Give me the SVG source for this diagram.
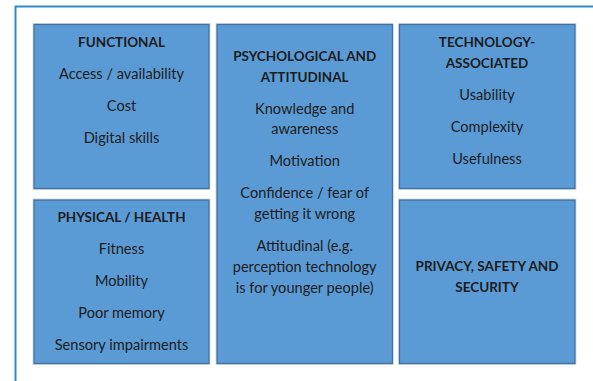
<svg xmlns="http://www.w3.org/2000/svg" width="593" height="381" viewBox="0 0 593 381">
<style>
.box{fill:#5B9BD5;stroke:#41719C;stroke-width:1.3}
.halo{fill:none;stroke:#D6DCE4;stroke-width:1}
text{font-family:Lato,"Open Sans",sans-serif;font-size:14.6px;fill:#1C1C1C;text-anchor:middle}
.t{font-weight:bold;font-size:13.5px}
</style>
<rect x="0" y="0" width="593" height="381" fill="#FFFFFF"/>
<path d="M15.5 381 V6.5 H593" fill="none" stroke="#2E8BC9" stroke-width="2"/>
<g id="functional">
<rect class="halo" x="33" y="23.5" width="177" height="166"/>
<rect class="box" x="34" y="24.5" width="175" height="164"/>
<text class="t" x="121.5" y="47">FUNCTIONAL</text>
<text x="121.5" y="78.5">Access / availability</text>
<text x="121.5" y="110.5">Cost</text>
<text x="121.5" y="142.5">Digital skills</text>
</g>
<g id="psychological">
<rect class="halo" x="216" y="23.5" width="177" height="341"/>
<rect class="box" x="217" y="24.5" width="175.5" height="339"/>
<text class="t" x="304.7" y="61">PSYCHOLOGICAL AND</text>
<text class="t" x="304.7" y="81.5">ATTITUDINAL</text>
<text x="304.7" y="113.5">Knowledge and</text>
<text x="304.7" y="134">awareness</text>
<text x="304.7" y="166">Motivation</text>
<text x="304.7" y="198">Confidence / fear of</text>
<text x="304.7" y="219">getting it wrong</text>
<text x="304.7" y="251">Attitudinal (e.g.</text>
<text x="304.7" y="272">perception technology</text>
<text x="304.7" y="293">is for younger people)</text>
</g>
<g id="technology">
<rect class="halo" x="398.5" y="23.5" width="177.5" height="166"/>
<rect class="box" x="399.5" y="24.5" width="175.5" height="164"/>
<text class="t" x="487" y="47">TECHNOLOGY-</text>
<text class="t" x="487" y="67.5">ASSOCIATED</text>
<text x="487" y="100">Usability</text>
<text x="487" y="132">Complexity</text>
<text x="487" y="164">Usefulness</text>
</g>
<g id="physical">
<rect class="halo" x="33" y="199" width="177" height="165.5"/>
<rect class="box" x="34" y="200" width="175" height="163.5"/>
<text class="t" x="121.5" y="221.5">PHYSICAL / HEALTH</text>
<text x="121.5" y="253.5">Fitness</text>
<text x="121.5" y="285.5">Mobility</text>
<text x="121.5" y="317.5">Poor memory</text>
<text x="121.5" y="349.5">Sensory impairments</text>
</g>
<g id="privacy">
<rect class="halo" x="398.5" y="199" width="177.5" height="165.5"/>
<rect class="box" x="399.5" y="200" width="175.5" height="163.5"/>
<text class="t" x="487" y="271">PRIVACY, SAFETY AND</text>
<text class="t" x="487" y="291.5">SECURITY</text>
</g>
<g id="connectors"/>
</svg>
